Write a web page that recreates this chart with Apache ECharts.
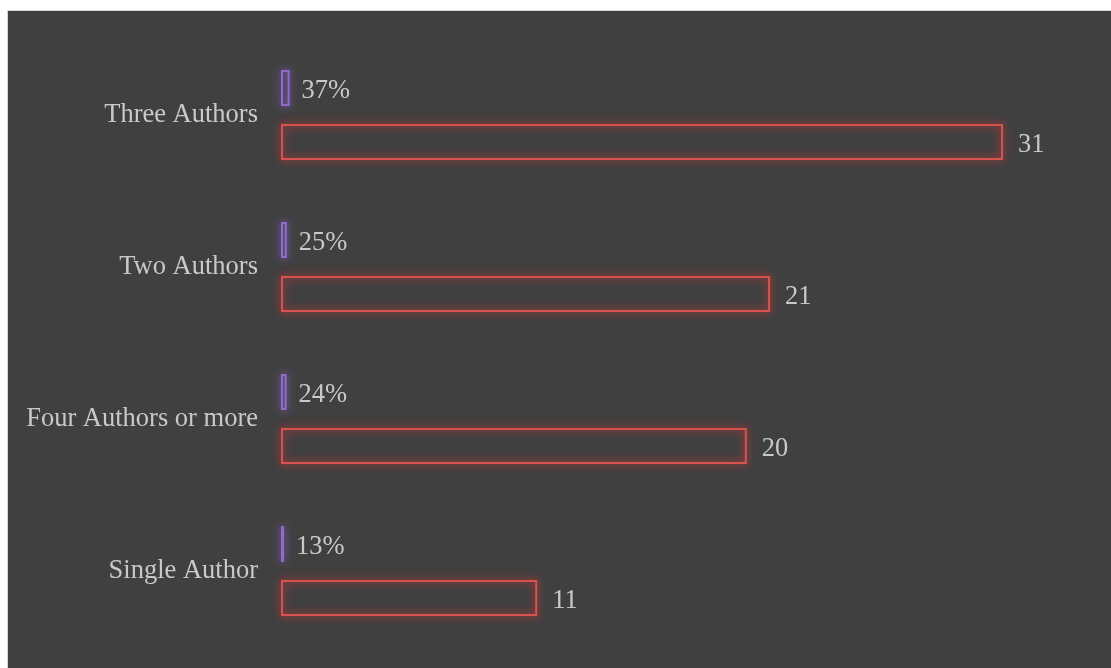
<!DOCTYPE html>
<html>
<head>
<meta charset="utf-8">
<script src="https://cdn.jsdelivr.net/npm/echarts@6/dist/echarts.min.js"></script>
<style>
    html, body { margin: 0; padding: 0; background: #fff; overflow: hidden; }
    #bar {
        position: absolute; left: 7px; top: 10px;
        width: 1130px; height: 680px;
        border: 1px solid #d4d4d4;
        background: #404040;
    }
</style>
</head>
<body>
<div id="bar"></div>
<script>
    // categories top -> bottom
    const categories = ['Three Authors', 'Two Authors', 'Four Authors or more', 'Single Author'];
    const countData = [31, 21, 20, 11];
    const shareData = [0.37, 0.25, 0.24, 0.13];

    const myChart = echarts.init(document.getElementById('bar'));
    const labelFont = {
        color: '#c9c9c9',
        fontFamily: '"Liberation Serif", "Times New Roman", serif',
        fontSize: 26.5
    };

    const option = {
        backgroundColor: '#404040',
        grid: {
            left: 273,
            top: 28,
            width: 722,
            height: 608
        },
        xAxis: {
            type: 'value',
            min: 0,
            max: 31,
            show: false
        },
        yAxis: {
            type: 'category',
            inverse: true,
            data: categories,
            axisLine: { show: false },
            axisTick: { show: false },
            splitLine: { show: false },
            axisLabel: Object.assign({ margin: 23, padding: [3, 0, 0, 0] }, labelFont)
        },
        series: [
            {
                name: 'share',
                type: 'bar',
                barWidth: 36,
                barGap: '50%',
                data: shareData,
                itemStyle: {
                    color: 'rgba(0,0,0,0)',
                    borderColor: '#8f6cc6',
                    borderWidth: 2,
                    shadowBlur: 8,
                    shadowColor: 'rgba(150,100,230,1)'
                },
                label: Object.assign({
                    show: true,
                    position: 'right',
                    distance: 12,
                    offset: [0, 3],
                    formatter: function (p) { return Math.round(p.value * 100) + '%'; }
                }, labelFont)
            },
            {
                name: 'count',
                type: 'bar',
                barWidth: 36,
                barGap: '50%',
                data: countData,
                itemStyle: {
                    color: 'rgba(0,0,0,0)',
                    borderColor: '#d9524f',
                    borderWidth: 2,
                    shadowBlur: 8,
                    shadowColor: 'rgba(250,50,50,1)'
                },
                label: Object.assign({
                    show: true,
                    position: 'right',
                    distance: 15,
                    offset: [0, 3]
                }, labelFont)
            }
        ]
    };

    myChart.setOption(option);
</script>
</body>
</html>
